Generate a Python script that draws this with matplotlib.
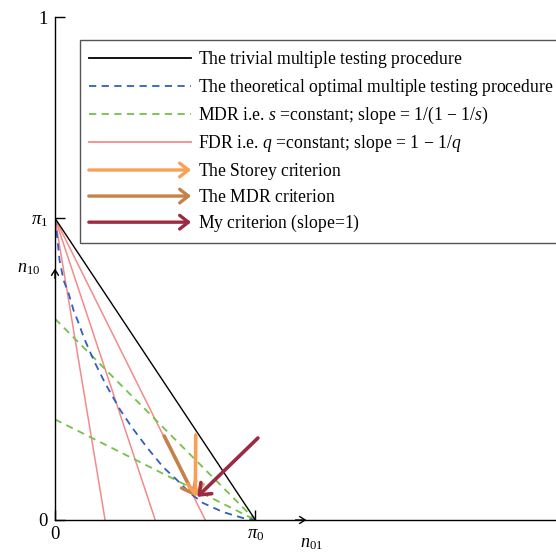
import matplotlib
matplotlib.use("Agg")
import matplotlib.pyplot as plt
from matplotlib.lines import Line2D
from matplotlib.patches import FancyArrowPatch
from matplotlib.legend_handler import HandlerBase

plt.rcParams['font.family'] = ['Liberation Serif', 'DejaVu Serif']
plt.rcParams['mathtext.fontset'] = 'custom'
plt.rcParams['mathtext.rm'] = 'Liberation Serif'
plt.rcParams['mathtext.it'] = 'Liberation Serif:italic'
plt.rcParams['mathtext.bf'] = 'Liberation Serif:bold'

# ---- data ----
pi0 = 0.4
pi1 = 0.6
fdr_x_intercepts = [0.1, 0.2, 0.3]
mdr_y_intercepts = [0.4, 0.2]
optimal_x = [0.0, 0.005, 0.009, 0.017, 0.027, 0.037, 0.047, 0.057, 0.070, 0.080,
             0.100, 0.130, 0.153, 0.183, 0.216, 0.243, 0.269, 0.295, 0.335, 0.375, 0.400]
optimal_y = [0.600, 0.557, 0.517, 0.477, 0.451, 0.417, 0.392, 0.364, 0.334, 0.312,
             0.272, 0.219, 0.185, 0.145, 0.105, 0.080, 0.054, 0.034, 0.016, 0.004, 0.000]
storey_start = (0.281, 0.169)
storey_end = (0.280, 0.046)
mdr_start = (0.218, 0.167)
mdr_end = (0.278, 0.048)
mine_start = (0.405, 0.163)
mine_end = (0.284, 0.046)

labels = [
    'The trivial multiple testing procedure',
    'The theoretical optimal multiple testing procedure',
    'MDR i.e. $s$ =constant; slope = 1/(1 \u2212 1/$s$)',
    'FDR i.e. $q$ =constant; slope = 1 \u2212 1/$q$',
    'The Storey criterion',
    'The MDR criterion',
    'My criterion (slope=1)',
]

c_black = 'black'
c_blue = '#2f5fbf'
c_green = '#72c24a'
c_pink = '#f48a8a'
c_orange = '#f9a057'
c_brown = '#c4824a'
c_maroon = '#9b2a42'

fig = plt.figure(figsize=(5.56, 5.53), dpi=100)
ax = fig.add_axes([55/556, 33/553, 501/556, 503/553])
ax.set_xlim(0, 1)
ax.set_ylim(0, 1)
for s in ['top', 'right']:
    ax.spines[s].set_visible(False)
for s in ['left', 'bottom']:
    ax.spines[s].set_linewidth(1.0)

# FDR lines
for xi in fdr_x_intercepts:
    ax.plot([0, xi], [pi1, 0], color=c_pink, lw=1.1)
# MDR lines
for yi in mdr_y_intercepts:
    ax.plot([0, pi0], [yi, 0], color=c_green, lw=1.3, ls=(0, (4, 3)))
# optimal
ax.plot(optimal_x, optimal_y, color=c_blue, lw=1.3, ls=(0, (4, 3)))
# trivial
ax.plot([0, pi0], [pi1, 0], color=c_black, lw=1.0)

astyle = '->,head_length=0.5,head_width=0.4'
for st, en, col in [(mdr_start, mdr_end, c_brown), (storey_start, storey_end, c_orange),
                    (mine_start, mine_end, c_maroon)]:
    ax.annotate('', xy=en, xytext=st,
                arrowprops=dict(arrowstyle=astyle, lw=2.6, color=col,
                                shrinkA=0, shrinkB=0, mutation_scale=14))

# axis arrows
ax.annotate('', xy=(0.502, 0), xytext=(0.48, 0),
            arrowprops=dict(arrowstyle='->,head_length=0.4,head_width=0.25', lw=1.0,
                            color='black', shrinkA=0, shrinkB=0, mutation_scale=10))
ax.annotate('', xy=(0, 0.500), xytext=(0, 0.48),
            arrowprops=dict(arrowstyle='->,head_length=0.4,head_width=0.25', lw=1.0,
                            color='black', shrinkA=0, shrinkB=0, mutation_scale=10))
ax.text(0.512, -0.030, r'$n_{01}$', fontsize=13, ha='center', va='top')
ax.text(-0.052, 0.50, r'$n_{10}$', fontsize=13, ha='center', va='center')

ax.set_xticks([0, pi0])
ax.set_xticklabels(['0', r'$\pi_0$'])
ax.set_yticks([0, pi1, 1])
ax.set_yticklabels(['0', r'$\pi_1$', '1'])
ax.tick_params(direction='in', length=7, width=1.0, labelsize=13.5)
ax.tick_params(axis='y', pad=5)
ax.tick_params(axis='x', pad=4)


class HandlerArrow(HandlerBase):
    def create_artists(self, legend, orig_handle, xdescent, ydescent, width, height,
                       fontsize, trans):
        y = height / 2 - ydescent
        arr = FancyArrowPatch((-xdescent, y), (width - xdescent, y),
                              arrowstyle='->,head_length=0.45,head_width=0.35',
                              mutation_scale=14, lw=2.4, color=orig_handle.get_color(),
                              shrinkA=0, shrinkB=0, transform=trans)
        return [arr]


h_trivial = Line2D([], [], color=c_black, lw=1.3)
h_opt = Line2D([], [], color=c_blue, lw=1.3, ls=(0, (4, 3)))
h_mdr = Line2D([], [], color=c_green, lw=1.3, ls=(0, (4, 3)))
h_fdr = Line2D([], [], color=c_pink, lw=1.3)
h_st = Line2D([], [], color=c_orange)
h_md = Line2D([], [], color=c_brown)
h_my = Line2D([], [], color=c_maroon)
handles = [h_trivial, h_opt, h_mdr, h_fdr, h_st, h_md, h_my]

# render every label through mathtext so all rows share the same metrics
leg_labels = [lab if '$' in lab else lab + r'$\mathregular{}$' for lab in labels]

leg = fig.legend(handles, leg_labels, loc='upper left',
                 bbox_to_anchor=(80/556, 1 - 40/553), bbox_transform=fig.transFigure,
                 fontsize=12.7, handlelength=5.8, handletextpad=0.4,
                 labelspacing=0.40, borderpad=0.5, borderaxespad=0,
                 fancybox=False, framealpha=1, edgecolor='#555555',
                 handler_map={h_st: HandlerArrow(), h_md: HandlerArrow(), h_my: HandlerArrow()})
leg.get_frame().set_linewidth(1.0)

fig.savefig('out.png', dpi=100)
